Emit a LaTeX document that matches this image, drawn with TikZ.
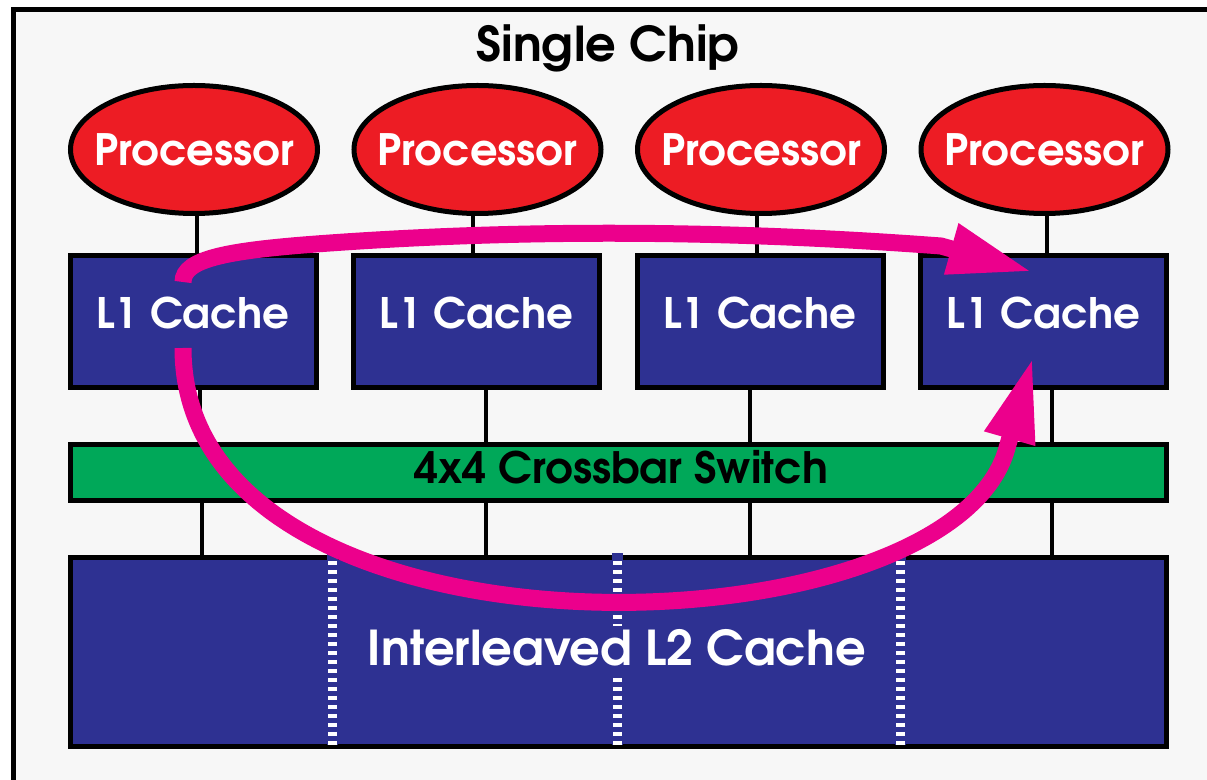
\documentclass[tikz,border=0pt]{standalone}
\usepackage{fontspec}
\setmainfont{TeX Gyre Adventor}
\usetikzlibrary{shapes.geometric,arrows.meta}
\definecolor{bgc}{HTML}{F7F7F7}
\definecolor{procred}{HTML}{ED1C24}
\definecolor{cacheblue}{HTML}{2E3192}
\definecolor{xbargreen}{HTML}{00A859}
\definecolor{flowmag}{HTML}{EC008C}
\begin{document}
\begin{tikzpicture}[x=0.5pt,y=-0.5pt,
  proc/.style={ellipse, draw=black, line width=2.5pt, fill=procred,
    minimum width=123.5pt, minimum height=64pt, inner sep=0pt},
  proctext/.style={inner sep=0pt, text=white,
    font=\bfseries\fontsize{21.6pt}{26pt}\selectfont},
  blk/.style={rectangle, draw=black, line width=2.5pt, inner sep=0pt},
  l1box/.style={blk, fill=cacheblue, minimum width=123pt, minimum height=66.25pt},
  lbl/.style={anchor=base, inner sep=0pt, text=white,
    font=\bfseries\fontsize{21pt}{25pt}\selectfont},
  wire/.style={line width=2pt, draw=black},
  flow/.style={line width=8.5pt, draw=flowmag, -{Triangle[length=42.5pt,width=24pt]}},
  strip/.style={line width=4.5pt, draw=white, dash pattern=on 2pt off 2.5pt}
]
\useasboundingbox (0,0) rectangle (1207,780);
\clip (0,0) rectangle (1207,780);
\fill[white] (0,0) rectangle (1207,780);
\draw[line width=2.5pt, fill=bgc] (13,9.5) rectangle (1240,810);

% processors
\node[proc] (p1) at (194,149.5) {};
\node[proc] (p2) at (477.5,149.5) {};
\node[proc] (p3) at (761,149.5) {};
\node[proc] (p4) at (1044.5,149.5) {};
\node[proctext] (pt1) at (p1) {Processor};
\node[proctext] (pt2) at (p2) {Processor};
\node[proctext] (pt3) at (p3) {Processor};
\node[proctext] (pt4) at (p4) {Processor};

% L1 caches
\node[l1box] (c1) at (193,321.75) {};
\node[l1box] (c2) at (476.5,321.75) {};
\node[l1box] (c3) at (760,321.75) {};
\node[l1box] (c4) at (1043.5,321.75) {};

% crossbar and L2
\node[blk, fill=xbargreen, minimum width=548.25pt, minimum height=28pt] (xb) at (618.25,472.5) {};
\node[blk, fill=cacheblue, minimum width=548.25pt, minimum height=94.5pt] (l2) at (618.25,652) {};

% wires
\draw[wire] (p1.south -| 197,0) -- (c1.north -| 197,0);
\draw[wire] (p2.south -| 473,0) -- (c2.north -| 473,0);
\draw[wire] (p3.south -| 757,0) -- (c3.north -| 757,0);
\draw[wire] (p4.south -| 1047,0) -- (c4.north -| 1047,0);
\draw[wire] (c1.south -| 200,0) -- (xb.north -| 200,0);
\draw[wire] (c2.south -| 486,0) -- (xb.north -| 486,0);
\draw[wire] (c3.south -| 750,0) -- (xb.north -| 750,0);
\draw[wire] (c4.south -| 1052,0) -- (xb.north -| 1052,0);
\draw[wire] (xb.south -| 202,0) -- (l2.north -| 202,0);
\draw[wire] (xb.south -| 486,0) -- (l2.north -| 486,0);
\draw[wire] (xb.south -| 750,0) -- (l2.north -| 750,0);
\draw[wire] (xb.south -| 1052,0) -- (l2.north -| 1052,0);

% interleave separators
\foreach \sx in {332.7,617.7,900.7}{
  \fill[cacheblue] (\sx-5.5,553) rectangle (\sx+5.5,745);
  \draw[strip] (\sx,561) -- (\sx,745);
}

% labels
\node[anchor=base, inner sep=0pt, font=\bfseries\fontsize{24pt}{29pt}\selectfont] (title) at (608,62) {Single Chip};
\node[lbl] (t1) at (193,329) {L1 Cache};
\node[lbl] (t2) at (476.5,329) {L1 Cache};
\node[lbl] (t3) at (760,329) {L1 Cache};
\node[lbl] (t4) at (1043.5,329) {L1 Cache};
\node[anchor=base, inner sep=0pt, font=\bfseries\fontsize{21.6pt}{26pt}\selectfont] (xt) at (621,484) {4x4 Crossbar Switch};
\node[anchor=base, inner xsep=2pt, inner ysep=0pt, text height=20pt, text depth=5.5pt, fill=cacheblue, text=white,
  font=\bfseries\fontsize{24pt}{29pt}\selectfont] (l2t) at (617,666) {Interleaved L2 Cache};

% data flow arrows
\coordinate (ua) at (183,282);
\coordinate (ut) at (1033,272);
\coordinate (la) at (183,348);
\coordinate (lt) at (1033,357);
\draw[flow] (ua) .. controls (183,258) and (230,250) .. (330,243)
  .. controls (500,231) and (700,228) .. (941,246) -- (ut);
\draw[flow] (la) .. controls (183,678) and (949,660) .. (1007,448) -- (lt);
\end{tikzpicture}
\end{document}
